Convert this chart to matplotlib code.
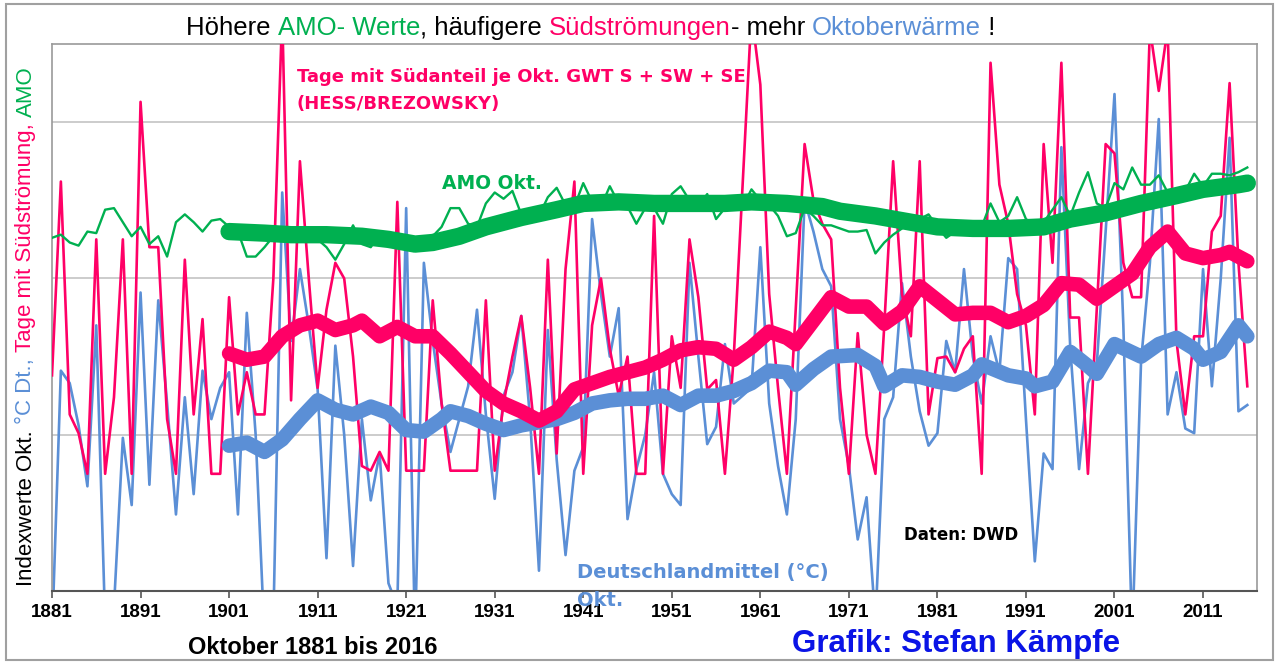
import numpy as np
import matplotlib.pyplot as plt
from matplotlib.patches import Rectangle

plt.rcParams['font.family'] = ['Liberation Sans', 'DejaVu Sans']

# Jahre (Oktober 1881 bis 2016)
years = np.arange(1881, 2017)

# Tage mit Suedanteil (Indexwerte, rosa)
sued = [1.38, 2.62, 1.13, 1.01, 0.75, 2.25, 0.75, 1.24, 2.25, 0.75,
        3.13, 2.20, 2.20, 1.10, 0.75, 2.12, 1.13, 1.74, 0.75, 0.75,
        1.88, 1.13, 1.40, 1.13, 1.13, 2.00, 3.70, 1.22, 2.75, 2.00,
        1.30, 1.80, 2.10, 2.00, 1.50, 0.80, 0.77, 0.89, 0.77, 2.49,
        0.77, 0.77, 0.77, 1.86, 1.20, 0.77, 0.77, 0.77, 0.77, 1.86,
        0.77, 1.20, 1.50, 1.76, 1.30, 0.75, 2.12, 0.88, 2.06, 2.62,
        0.75, 1.70, 2.00, 1.55, 1.25, 1.50, 0.75, 0.75, 2.40, 0.75,
        1.63, 1.30, 2.25, 1.88, 1.29, 1.35, 0.75, 1.50, 2.60, 3.70,
        3.24, 1.90, 1.30, 0.75, 1.80, 2.86, 2.50, 2.35, 2.25, 1.30,
        0.75, 1.65, 1.00, 0.75, 1.70, 2.75, 1.90, 1.63, 2.75, 1.13,
        1.49, 1.50, 1.40, 1.55, 1.63, 0.75, 3.38, 2.60, 2.35, 1.90,
        1.70, 1.13, 2.86, 2.10, 3.38, 1.75, 1.75, 0.75, 1.80, 2.86,
        2.80, 2.10, 1.88, 1.88, 3.60, 3.20, 3.60, 1.60, 1.13, 1.63,
        1.63, 2.30, 2.40, 3.25, 2.10, 1.31]

# Deutschlandmittel Oktober (blau)
temp = [-0.30, 1.41, 1.33, 1.06, 0.67, 1.70, -0.20, -0.10, 0.98, 0.55,
        1.91, 0.68, 1.86, 1.20, 0.49, 1.24, 0.62, 1.41, 1.10, 1.30,
        1.40, 0.49, 1.78, 1.00, -0.30, -0.20, 2.55, 1.60, 2.06, 1.70,
        1.29, 0.21, 1.57, 1.00, 0.16, 1.10, 0.58, 0.88, 0.05, -0.10,
        2.45, -0.30, 2.10, 1.60, 1.20, 0.89, 1.10, 1.31, 1.80, 1.13,
        0.59, 1.25, 1.40, 1.76, 1.10, 0.13, 1.67, 0.84, 0.23, 0.77,
        0.92, 2.38, 1.90, 1.50, 1.81, 0.46, 0.78, 1.00, 1.40, 0.75,
        0.62, 0.55, 2.10, 1.50, 0.94, 1.05, 1.58, 1.20, 1.25, 1.30,
        2.20, 1.20, 0.80, 0.49, 1.10, 2.50, 2.30, 2.06, 1.95, 1.10,
        0.80, 0.33, 0.60, -0.20, 1.10, 1.24, 1.97, 1.50, 1.15, 0.93,
        1.01, 1.60, 1.40, 2.06, 1.50, 1.20, 1.63, 1.40, 2.13, 2.06,
        1.10, 0.19, 0.88, 0.78, 2.84, 1.56, 0.78, 1.33, 1.45, 2.30,
        3.18, 1.70, -0.30, 1.47, 2.10, 3.02, 1.13, 1.40, 1.04, 1.01,
        2.06, 1.31, 2.00, 2.90, 1.15, 1.19]

# AMO Oktober (gruen)
amo = [2.26, 2.28, 2.23, 2.21, 2.30, 2.29, 2.44, 2.45, 2.36, 2.27,
       2.33, 2.22, 2.27, 2.14, 2.36, 2.41, 2.36, 2.30, 2.37, 2.38,
       2.33, 2.30, 2.14, 2.14, 2.20, 2.27, 2.30, 2.28, 2.30, 2.27,
       2.25, 2.20, 2.12, 2.22, 2.34, 2.22, 2.20, 2.28, 2.24, 2.28,
       2.26, 2.22, 2.24, 2.27, 2.33, 2.45, 2.45, 2.35, 2.33, 2.48,
       2.55, 2.51, 2.56, 2.41, 2.41, 2.40, 2.52, 2.58, 2.47, 2.46,
       2.61, 2.49, 2.46, 2.59, 2.48, 2.46, 2.35, 2.45, 2.45, 2.35,
       2.54, 2.59, 2.50, 2.46, 2.54, 2.38, 2.45, 2.47, 2.46, 2.57,
       2.50, 2.47, 2.40, 2.27, 2.29, 2.45, 2.40, 2.34, 2.34, 2.32,
       2.30, 2.30, 2.31, 2.16, 2.23, 2.28, 2.32, 2.36, 2.38, 2.41,
       2.33, 2.26, 2.30, 2.32, 2.32, 2.33, 2.48, 2.36, 2.40, 2.52,
       2.38, 2.34, 2.36, 2.44, 2.52, 2.40, 2.55, 2.68, 2.48, 2.45,
       2.61, 2.57, 2.71, 2.60, 2.60, 2.66, 2.55, 2.56, 2.56, 2.67,
       2.59, 2.67, 2.67, 2.66, 2.68, 2.71]

# geglaettete Verlaeufe (dicke Linien) ab 1901
sued_gl_j = [1901, 1903, 1905, 1907, 1909, 1911, 1913, 1915, 1916, 1918,
             1920, 1922, 1924, 1926, 1928, 1930, 1932, 1934, 1936, 1938,
             1940, 1942, 1944, 1946, 1948, 1950, 1952, 1954, 1956, 1958,
             1960, 1962, 1964, 1965, 1967, 1969, 1971, 1973, 1975, 1977,
             1979, 1981, 1983, 1985, 1987, 1989, 1991, 1993, 1995, 1997,
             1999, 2001, 2003, 2005, 2007, 2009, 2011, 2013, 2014, 2016]
sued_gl = [1.52, 1.48, 1.50, 1.63, 1.70, 1.73, 1.67, 1.70, 1.73, 1.63,
           1.69, 1.63, 1.63, 1.52, 1.40, 1.28, 1.20, 1.15, 1.09, 1.15,
           1.29, 1.33, 1.37, 1.40, 1.43, 1.48, 1.54, 1.56, 1.55, 1.48,
           1.56, 1.66, 1.62, 1.58, 1.73, 1.88, 1.82, 1.82, 1.71, 1.79,
           1.95, 1.86, 1.77, 1.78, 1.78, 1.72, 1.76, 1.83, 1.97, 1.96,
           1.87, 1.95, 2.03, 2.20, 2.30, 2.16, 2.13, 2.15, 2.17, 2.11]

temp_gl_j = [1901, 1903, 1905, 1907, 1909, 1911, 1913, 1915, 1917, 1919,
             1921, 1923, 1925, 1926, 1928, 1930, 1932, 1934, 1936, 1938,
             1940, 1942, 1944, 1946, 1948, 1950, 1952, 1954, 1956, 1958,
             1960, 1962, 1964, 1965, 1967, 1969, 1972, 1974, 1975, 1977,
             1979, 1981, 1983, 1985, 1986, 1989, 1991, 1992, 1994, 1996,
             1998, 1999, 2001, 2004, 2006, 2008, 2010, 2011, 2013, 2015,
             2016]
temp_gl = [0.93, 0.95, 0.89, 0.97, 1.10, 1.22, 1.16, 1.13, 1.18, 1.14,
           1.03, 1.02, 1.10, 1.15, 1.12, 1.07, 1.03, 1.06, 1.08, 1.10,
           1.14, 1.20, 1.22, 1.23, 1.23, 1.25, 1.19, 1.25, 1.25, 1.28,
           1.33, 1.41, 1.40, 1.32, 1.42, 1.50, 1.51, 1.44, 1.31, 1.38,
           1.37, 1.34, 1.32, 1.38, 1.45, 1.38, 1.36, 1.31, 1.34, 1.53,
           1.44, 1.39, 1.58, 1.50, 1.58, 1.62, 1.55, 1.48, 1.53, 1.70,
           1.63]

amo_gl_j = [1901, 1905, 1908, 1912, 1916, 1919, 1922, 1924, 1927, 1930,
            1934, 1938, 1941, 1945, 1949, 1953, 1957, 1960, 1964, 1968,
            1970, 1974, 1978, 1981, 1985, 1989, 1993, 1996, 2000, 2004,
            2008, 2011, 2015, 2016]
amo_gl = [2.30, 2.29, 2.28, 2.28, 2.27, 2.25, 2.22, 2.23, 2.27, 2.33,
          2.39, 2.44, 2.48, 2.49, 2.48, 2.48, 2.48, 2.49, 2.48, 2.46,
          2.43, 2.40, 2.36, 2.33, 2.32, 2.32, 2.33, 2.38, 2.42, 2.48,
          2.53, 2.57, 2.60, 2.61]

tick_years = [1881, 1891, 1901, 1911, 1921, 1931, 1941, 1951, 1961, 1971,
              1981, 1991, 2001, 2011]

pink = '#ff0066'
gruen = '#00b050'
blau = '#5b8fd6'
dv = ['DejaVu Sans']

fig = plt.figure(figsize=(12.81, 6.64), dpi=100)
ax = fig.add_axes([0.0406, 0.1099, 0.9407, 0.8238])

ax.plot(years, temp, color=blau, lw=1.9, zorder=2)
ax.plot(years, sued, color=pink, lw=1.9, zorder=3)
ax.plot(years, amo, color=gruen, lw=1.7, zorder=3)
ax.plot(temp_gl_j, temp_gl, color=blau, lw=10.5, solid_capstyle='round',
        solid_joinstyle='round', zorder=4)
ax.plot(sued_gl_j, sued_gl, color=pink, lw=10.5, solid_capstyle='round',
        solid_joinstyle='round', zorder=4)
ax.plot(amo_gl_j, amo_gl, color=gruen, lw=12.5, solid_capstyle='round',
        solid_joinstyle='round', zorder=4)

ax.set_xlim(1881, 2017.1)
ax.set_ylim(0, 3.5)
ax.set_yticks([1, 2, 3])
ax.yaxis.grid(True, color='#c4c4c4', lw=1.2)
ax.set_axisbelow(True)
ax.tick_params(axis='y', left=False, labelleft=False)
ax.set_xticks(tick_years)
ax.set_xticklabels([str(t) for t in tick_years], fontsize=13.5, fontweight='bold')
ax.tick_params(axis='x', direction='out', length=5, width=1.2, color='#555555', pad=4)
for s in ['top', 'right', 'left']:
    ax.spines[s].set_color('#999999')
    ax.spines[s].set_linewidth(1.2)
ax.spines['bottom'].set_color('#555555')
ax.spines['bottom'].set_linewidth(1.5)

# Beschriftungen im Diagramm
ax.text(0.203, 0.94, 'Tage mit Südanteil je Okt. GWT S + SW + SE', transform=ax.transAxes,
        color=pink, fontsize=13, fontweight='bold', va='center', family=dv)
ax.text(0.203, 0.89, '(HESS/BREZOWSKY)', transform=ax.transAxes,
        color=pink, fontsize=13, fontweight='bold', va='center', family=dv)
ax.text(0.324, 0.745, 'AMO Okt.', transform=ax.transAxes,
        color=gruen, fontsize=13.5, fontweight='bold', va='center', family=dv)
ax.text(0.707, 0.103, 'Daten: DWD', transform=ax.transAxes,
        color='black', fontsize=12, fontweight='bold', va='center', family=dv)
ax.text(0.436, 0.033, 'Deutschlandmittel (°C)', transform=ax.transAxes,
        color=blau, fontsize=14, fontweight='bold', va='center', family=dv)
ax.text(0.436, -0.017, 'Okt.', transform=ax.transAxes, clip_on=False,
        color=blau, fontsize=14, fontweight='bold', va='center', family=dv)

fig.text(313 / 1281, 1 - 647 / 664, 'Oktober 1881 bis 2016', ha='center', va='center',
         fontsize=17, fontweight='bold')
fig.text(956 / 1281, 1 - 644 / 664, 'Grafik: Stefan Kämpfe', ha='center', va='center',
         fontsize=22.5, fontweight='bold', color='#0a14e6')


def bunt(x, y, teile, rotation=0, **kw):
    r = fig.canvas.get_renderer()
    for s, c in teile:
        t = fig.text(x, y, s, color=c, rotation=rotation, **kw)
        bb = t.get_window_extent(r)
        if rotation == 0:
            x += bb.width / fig.bbox.width
        else:
            y += bb.height / fig.bbox.height


bunt(186 / 1281, 1 - 28 / 664,
     [('Höhere ', 'black'), ('AMO- Werte', gruen), (', häufigere ', 'black'),
      ('Südströmungen', pink), ('- mehr ', 'black'), ('Oktoberwärme', blau),
      (' !', 'black')],
     fontsize=18.5, va='center', ha='left')

bunt(26 / 1281, 1 - 586 / 664,
     [('Indexwerte Okt. ', 'black'), ('°C Dt., ', blau),
      ('Tage mit Südströmung, ', pink), ('AMO', gruen)],
     rotation=90, fontsize=16, va='bottom', ha='center')

fig.patches.append(Rectangle((6 / 1281, 4 / 664), 1267 / 1281, 656 / 664,
                             transform=fig.transFigure, fill=False,
                             edgecolor='#a0a0a0', lw=1.5))

fig.savefig('out.png', dpi=100)
